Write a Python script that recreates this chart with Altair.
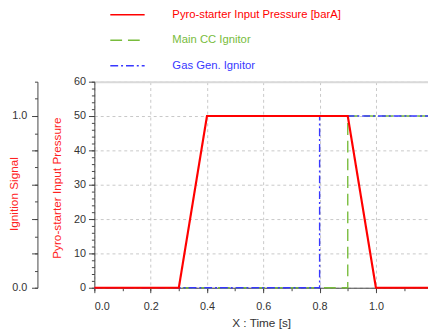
import altair as alt
import pandas as pd

# ---- data ----
time_press = [0.0, 0.3, 0.4, 0.9, 1.0, 1.185]
pressure = [0, 0, 50, 50, 0, 0]

time_gas = [0.0, 0.8, 0.8, 1.185]
signal_gas = [0, 0, 1, 1]
time_main = [0.0, 0.9, 0.9, 1.185]
signal_main = [0, 0, 1, 1]

S_P = "Pyro-starter Input Pressure [barA]"
S_M = "Main CC Ignitor"
S_G = "Gas Gen. Ignitor"
series = [S_P, S_M, S_G]
colors = ["#ff0000", "#78bc3c", "#3838ff"]
dashes = [[1, 0], [12, 6], [8, 3, 2, 3]]

press_df = pd.DataFrame({"t": time_press, "v": pressure, "s": S_P, "o": list(range(len(time_press)))})
ign_df = pd.concat([
    pd.DataFrame({"t": time_main, "v": signal_main, "s": S_M, "o": list(range(len(time_main)))}),
    pd.DataFrame({"t": time_gas, "v": signal_gas, "s": S_G, "o": list(range(len(time_gas)))}),
])

XDOM = [0, 1.185]
FONT = "Liberation Sans"
GRID = "#c8c8c8"
AX = "#444444"

label_color_expr = "".join(
    f"datum.label == '{s}' ? '{c}' : " for s, c in zip(series, colors)
) + "'#333'"

def xenc(axis):
    return alt.X("t:Q", scale=alt.Scale(domain=XDOM, nice=False, zero=False), axis=axis)

color_enc = alt.Color("s:N", scale=alt.Scale(domain=series, range=colors),
                      legend=alt.Legend(
                          title=None, orient="none", legendX=28, legendY=-74,
                          direction="vertical", symbolType="M-5,0H5", symbolSize=49,
                          symbolStrokeWidth=1.5, labelOffset=40, rowPadding=13,
                          labelFontSize=11.5, labelFont=FONT, labelLimit=400,
                          labelColor={"expr": label_color_expr},
                      ))
dash_enc = alt.StrokeDash("s:N", scale=alt.Scale(domain=series, range=dashes), legend=None)

# ignition minor ticks
ign_minor = alt.Chart(ign_df).mark_line(opacity=0).encode(
    x=xenc(None),
    y=alt.Y("v:Q", scale=alt.Scale(domain=[0, 1.2], nice=False),
            axis=alt.Axis(orient="left", offset=58, values=[i / 10 for i in range(13)],
                          tickSize=3, labels=False, domain=False, grid=False, title=None,
                          tickColor=AX)),
    detail="s:N",
)

ign = alt.Chart(ign_df).mark_line(strokeWidth=1.4).encode(
    x=xenc(None),
    y=alt.Y("v:Q", scale=alt.Scale(domain=[0, 1.2], nice=False),
            axis=alt.Axis(orient="left", offset=58, values=[0, 0.2, 0.4, 0.6, 0.8, 1.0],
                          tickSize=6, labelExpr="datum.value == 0 || datum.value == 1 ? format(datum.value, '.1f') : ''",
                          grid=False, title="Ignition Signal", titleColor="#ff2020",
                          titleFontWeight="normal", titleFontSize=12, titleFont=FONT,
                          titleX=-24, titleY=114, titleAngle=-90, titleAlign="center",
                          titleBaseline="middle",
                          labelFont=FONT, labelFontSize=11, labelColor="#333333",
                          labelPadding=5, domainColor=AX, tickColor=AX)),
    color=color_enc,
    strokeDash=dash_enc,
    order="o:Q",
)

press_minor = alt.Chart(press_df).mark_line(opacity=0).encode(
    x=xenc(alt.Axis(orient="bottom", values=[i / 10 for i in range(12)], tickSize=3, labels=False,
                    domain=False, grid=False, title=None, tickColor=AX)),
    y=alt.Y("v:Q", scale=alt.Scale(domain=[0, 60], nice=False),
            axis=alt.Axis(orient="left", values=list(range(0, 61, 2)), tickSize=3, labels=False,
                          domain=False, grid=False, title=None, tickColor=AX)),
)

top_border = alt.Chart(press_df).mark_line(opacity=0).encode(
    x=xenc(alt.Axis(orient="top", labels=False, ticks=False, grid=False, title=None,
                    domainColor="#d9d9d9", domainWidth=2)),
    y=alt.Y("v:Q", scale=alt.Scale(domain=[0, 60], nice=False), axis=None),
)

press = alt.Chart(press_df).mark_line(strokeWidth=2.2).encode(
    x=xenc(alt.Axis(orient="bottom", values=[0, 0.2, 0.4, 0.6, 0.8, 1.0], format=".1f", tickSize=5,
                    grid=True, gridColor=GRID, gridDash=[3, 3], gridWidth=1,
                    title="X : Time [s]", titleFont=FONT, titleFontSize=12,
                    titleFontWeight="normal", titleColor="#333333", titlePadding=6,
                    labelFont=FONT, labelFontSize=11, labelColor="#333333", labelPadding=8,
                    domainColor=AX, tickColor=AX)),
    y=alt.Y("v:Q", scale=alt.Scale(domain=[0, 60], nice=False),
            axis=alt.Axis(orient="left", values=list(range(0, 61, 10)), tickSize=6, grid=True,
                          gridColor=GRID, gridDash=[3, 3], gridWidth=1,
                          title="Pyro-starter Input Pressure", titleColor="#ff2020",
                          titleFont=FONT, titleFontSize=12, titleFontWeight="normal",
                          titleX=-38, titleY=108, titleAngle=-90, titleAlign="center",
                          titleBaseline="middle",
                          labelFont=FONT, labelFontSize=11, labelColor="#333333",
                          labelPadding=3, domainColor=AX, tickColor=AX)),
    color=color_enc,
    strokeDash=dash_enc,
    order="o:Q",
)

chart = alt.layer(ign_minor, ign, press_minor, top_border, press).resolve_scale(
    y="independent", x="independent"
).resolve_axis(y="independent", x="independent").properties(
    width=340, height=210,
    autosize=alt.AutoSizeParams(type="none"),
    padding={"left": 88, "top": 72, "right": 0, "bottom": 42},
).configure_view(stroke=None)

chart.save("out.html", embed_options={"renderer": "svg", "actions": False})
